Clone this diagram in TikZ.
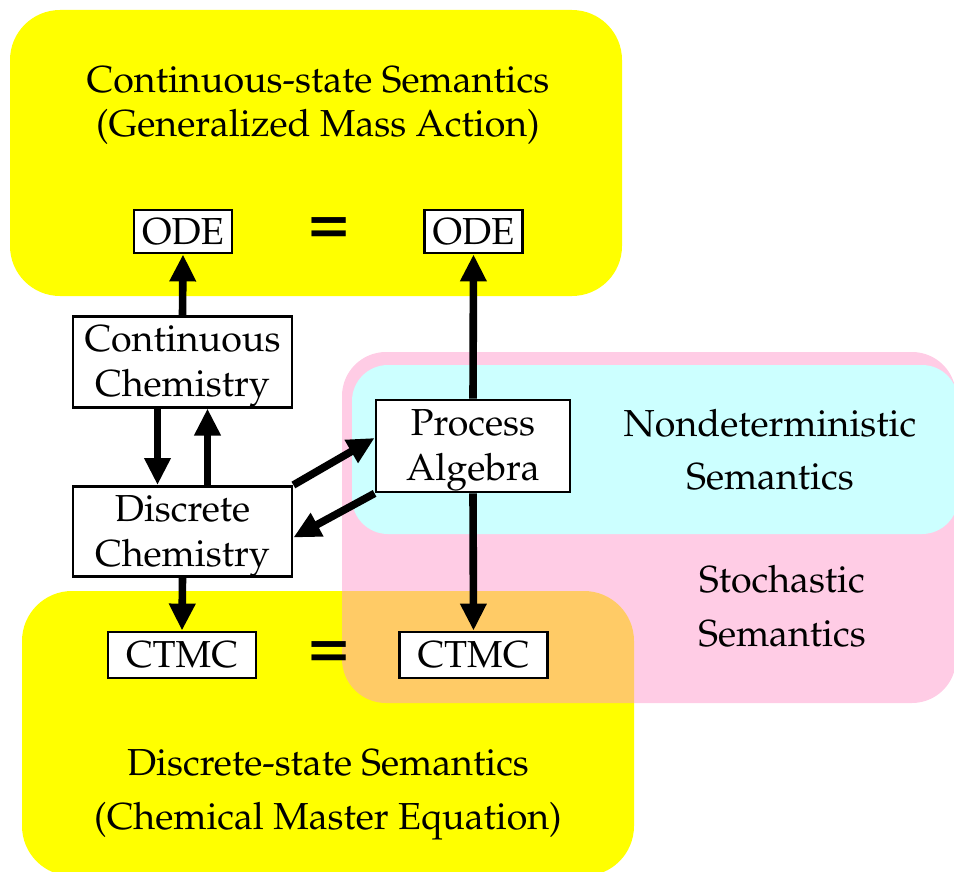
\documentclass[tikz,border=0pt]{standalone}
\usepackage[T1]{fontenc}
\usepackage{mathpazo}
\usetikzlibrary{arrows.meta}
\definecolor{semyellow}{RGB}{255,255,0}
\definecolor{sempink}{RGB}{255,153,204}
\definecolor{semcyan}{RGB}{204,255,255}
% tall strut that pushes two-line box labels slightly downwards
\newcommand{\toplift}{\rule{0pt}{17.5pt}}
\begin{document}
\begin{tikzpicture}[x=0.5pt,y=-0.5pt,
  every node/.style={font=\fontsize{18.8}{22.3}\selectfont},
  box/.style={draw, fill=white, line width=1.4pt, inner sep=0pt, align=center},
  caption/.style={align=center, inner sep=0pt, anchor=base},
  eqsign/.style={font=\fontsize{34}{34}\selectfont\bfseries, inner sep=0pt},
  conn/.style={line width=3.8pt, -{Triangle[length=13.5pt,width=12.5pt]}},
]
\useasboundingbox (0,0) rectangle (954,872);

% semantic domains
\fill[semyellow, rounded corners=25pt] (10,10) rectangle (622,296);
\fill[semyellow, rounded corners=25pt] (22,591) rectangle (634,876);
\fill[sempink, fill opacity=0.5, rounded corners=22pt] (342,352) rectangle (956,703);
\fill[semcyan, rounded corners=18pt] (352,365) rectangle (958,534);

% domain captions
\node[caption] (contsem1) at (318,93) {Continuous-state Semantics};
\node[caption] (contsem2) at (318,137) {(Generalized Mass Action)};
\node[caption] (discsem1) at (328,775) {Discrete-state Semantics};
\node[caption] (discsem2) at (328,829) {(Chemical Master Equation)};
\node[caption] (nondet1) at (770,436) {Nondeterministic};
\node[caption] (nondet2) at (770,489) {Semantics};
\node[caption] (stoch1) at (782,592) {Stochastic};
\node[caption] (stoch2) at (782,646) {Semantics};

% models
\node[box, minimum width=49pt, minimum height=21.5pt] (odeL) at (183,231.5) {ODE};
\node[box, minimum width=49pt, minimum height=21.5pt] (odeR) at (473.5,231.5) {ODE};
\node[box, minimum width=109.5pt, minimum height=45pt] (cc) at (182.5,362) {\toplift Continuous\\Chemistry};
\node[box, minimum width=109.5pt, minimum height=45pt] (dc) at (182.5,531.5) {\toplift Discrete\\Chemistry};
\node[box, minimum width=97pt, minimum height=46pt] (pa) at (473,446) {\toplift Process\\Algebra};
\node[box, minimum width=74pt, minimum height=23pt] (ctmcL) at (182,655) {CTMC};
\node[box, minimum width=74pt, minimum height=23pt] (ctmcR) at (473.5,655) {CTMC};

\node[eqsign] (eqTop) at (329,231) {=};
\node[eqsign] (eqBot) at (329,655) {=};

% translations
\draw[conn] (cc.north) -- (odeL.south);
\draw[conn] (pa.north) -- (odeR.south);
\draw[conn] ([xshift=-12.5pt]cc.south) -- ([xshift=-12.5pt]dc.north);
\draw[conn] ([xshift=12.5pt]dc.north) -- ([xshift=12.5pt]cc.south);
\draw[conn] (dc.north east) -- ([yshift=4pt]pa.west);
\draw[conn] (pa.south west) -- ([yshift=-3pt]dc.east);
\draw[conn] (dc.south) -- (ctmcL.north);
\draw[conn] (pa.south) -- (ctmcR.north);
\end{tikzpicture}
\end{document}
